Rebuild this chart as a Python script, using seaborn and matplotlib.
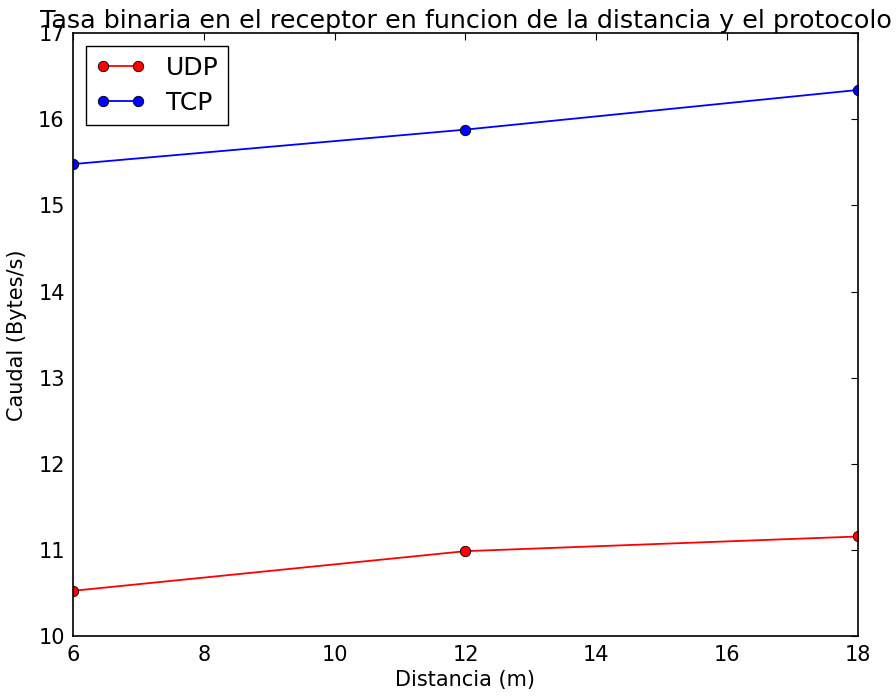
import matplotlib
matplotlib.use('Agg')
import matplotlib.pyplot as plt
import seaborn as sns
import pandas as pd

# Data
distancia = [6, 12, 18]
udp = [10.53, 10.99, 11.16]
tcp = [15.48, 15.88, 16.34]

df = pd.DataFrame({'Distancia': distancia + distancia,
                   'Caudal': udp + tcp,
                   'Protocolo': ['UDP'] * 3 + ['TCP'] * 3})

sns.set_style('white')
plt.rcParams['font.family'] = ['DejaVu Sans']
plt.rcParams['text.color'] = 'black'
plt.rcParams['axes.labelcolor'] = 'black'
plt.rcParams['xtick.color'] = 'black'
plt.rcParams['ytick.color'] = 'black'
plt.rcParams['xtick.direction'] = 'in'
plt.rcParams['ytick.direction'] = 'in'
plt.rcParams['xtick.top'] = True
plt.rcParams['ytick.right'] = True
plt.rcParams['xtick.major.size'] = 5
plt.rcParams['ytick.major.size'] = 5

fig = plt.figure(figsize=(8.96, 6.96), dpi=100)
ax = fig.add_axes([0.0815, 0.0855, 0.876, 0.867])

for proto, color in [('UDP', 'red'), ('TCP', 'blue')]:
    sub = df[df['Protocolo'] == proto]
    sns.lineplot(data=sub, x='Distancia', y='Caudal', color=color, marker='o',
                 markersize=7.5, markeredgecolor='black', markeredgewidth=0.6,
                 linewidth=1.3, label=proto, ax=ax, legend=False)

ax.set_xlim(6, 18)
ax.set_ylim(10, 17)
ax.set_xticks([6, 8, 10, 12, 14, 16, 18])
ax.set_yticks(range(10, 18))
ax.tick_params(labelsize=15, width=0.8, pad=6)
for s in ax.spines.values():
    s.set_color('black')
    s.set_linewidth(1.2)

ax.set_title('Tasa binaria en el receptor en funcion de la distancia y el protocolo',
             fontsize=18.3, pad=4)
ax.set_xlabel('Distancia (m)', fontsize=15, labelpad=4)
ax.set_ylabel('Caudal (Bytes/s)', fontsize=15, labelpad=8)

leg = ax.legend(loc='upper left', numpoints=2, fontsize=18, fancybox=False,
                framealpha=1, edgecolor='black', borderaxespad=0.5,
                handlelength=2.0, handletextpad=0.8, labelspacing=0.45)
leg.get_frame().set_linewidth(1.0)

fig.savefig('out.png', dpi=100)
